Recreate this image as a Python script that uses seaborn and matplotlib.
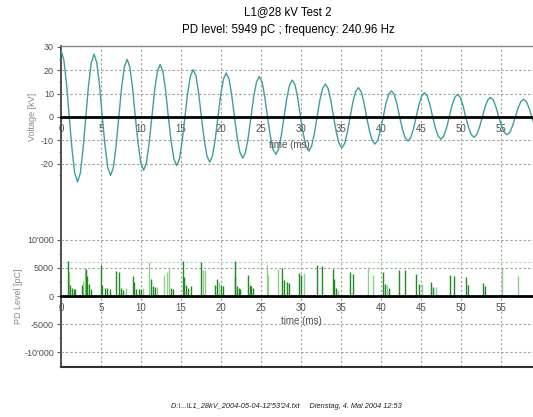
import matplotlib
matplotlib.use("Agg")
import matplotlib.pyplot as plt
import seaborn as sns

# --- values ---------------------------------------------------------------
# voltage trace, sampled every ~1/12 of a period (ms, kV)
time_ms = [
    0.00, 0.34, 0.69, 1.03, 1.38, 1.72,
    2.07, 2.41, 2.75, 3.10, 3.44, 3.79,
    4.13, 4.47, 4.82, 5.16, 5.51, 5.85,
    6.20, 6.54, 6.88, 7.23, 7.57, 7.92,
    8.26, 8.61, 8.95, 9.29, 9.64, 9.98,
    10.33, 10.67, 11.01, 11.36, 11.70, 12.05,
    12.39, 12.74, 13.08, 13.42, 13.77, 14.11,
    14.46, 14.80, 15.14, 15.49, 15.83, 16.18,
    16.52, 16.87, 17.21, 17.55, 17.90, 18.24,
    18.59, 18.93, 19.27, 19.62, 19.96, 20.31,
    20.65, 21.00, 21.34, 21.68, 22.03, 22.37,
    22.72, 23.06, 23.40, 23.75, 24.09, 24.44,
    24.78, 25.13, 25.47, 25.81, 26.16, 26.50,
    26.85, 27.19, 27.53, 27.88, 28.22, 28.57,
    28.91, 29.26, 29.60, 29.94, 30.29, 30.63,
    30.98, 31.32, 31.66, 32.01, 32.35, 32.70,
    33.04, 33.39, 33.73, 34.07, 34.42, 34.76,
    35.11, 35.45, 35.79, 36.14, 36.48, 36.83,
    37.17, 37.52, 37.86, 38.20, 38.55, 38.89,
    39.24, 39.58, 39.92, 40.27, 40.61, 40.96,
    41.30, 41.65, 41.99, 42.33, 42.68, 43.02,
    43.37, 43.71, 44.05, 44.40, 44.74, 45.09,
    45.43, 45.78, 46.12, 46.46, 46.81, 47.15,
    47.50, 47.84, 48.18, 48.53, 48.87, 49.22,
    49.56, 49.91, 50.25, 50.59, 50.94, 51.28,
    51.63, 51.97, 52.31, 52.66, 53.00, 53.35,
    53.69, 54.04, 54.38, 54.72, 55.07, 55.41,
    55.76, 56.10, 56.44, 56.79, 57.13, 57.48,
    57.82, 58.17, 58.51, 58.85, 59.20,
]
voltage_kv = [
    28.6, 24.8, 14.3, 0.0, -13.9, -24.1,
    -27.8, -24.1, -13.9, 0.0, 13.5, 23.3,
    26.9, 23.3, 13.5, 0.0, -12.5, -21.7,
    -25.0, -21.7, -12.5, 0.0, 12.4, 21.4,
    24.7, 21.4, 12.4, 0.0, -11.4, -19.7,
    -22.8, -19.7, -11.4, 0.0, 11.3, 19.5,
    22.5, 19.5, 11.3, 0.0, -10.4, -18.0,
    -20.8, -18.0, -10.4, 0.0, 10.2, 17.6,
    20.3, 17.6, 10.2, 0.0, -9.7, -16.7,
    -19.3, -16.7, -9.7, 0.0, 9.4, 16.3,
    18.8, 16.3, 9.4, 0.0, -8.8, -15.2,
    -17.6, -15.2, -8.8, 0.0, 8.7, 15.0,
    17.3, 15.0, 8.7, 0.0, -8.0, -13.9,
    -16.0, -13.9, -8.0, 0.0, 7.9, 13.7,
    15.8, 13.7, 7.9, 0.0, -7.3, -12.6,
    -14.6, -12.6, -7.3, 0.0, 7.1, 12.2,
    14.1, 12.2, 7.1, 0.0, -6.6, -11.4,
    -13.2, -11.4, -6.6, 0.0, 6.3, 10.9,
    12.6, 10.9, 6.3, 0.0, -5.8, -10.0,
    -11.6, -10.0, -5.8, 0.0, 5.6, 9.7,
    11.2, 9.7, 5.6, 0.0, -5.2, -8.9,
    -10.3, -8.9, -5.2, 0.0, 5.2, 9.0,
    10.4, 9.0, 5.2, 0.0, -4.8, -8.2,
    -9.5, -8.2, -4.8, 0.0, 4.9, 8.4,
    9.7, 8.4, 4.9, 0.0, -4.4, -7.5,
    -8.7, -7.5, -4.4, 0.0, 4.2, 7.3,
    8.4, 7.3, 4.2, 0.0, -3.8, -6.6,
    -7.6, -6.6, -3.8, 0.0, 3.8, 6.6,
    7.6, 6.6, 3.8, 0.0, -3.8,
]

# partial discharge pulses (ms, pC, 1 = dark green / 0 = light green)
pd_time_ms = [
    0.83, 1.0, 1.15, 1.35, 1.6, 1.8,
    2.6, 2.8, 3.0, 3.15, 3.3, 3.45, 3.7,
    4.96, 5.1, 5.45, 5.7, 6.1,
    6.9, 7.2, 7.45, 7.7, 8.1,
    8.96, 9.1, 9.4, 9.7, 10.0, 10.3,
    11.0, 11.2, 11.45, 11.75, 12.0,
    12.9, 13.2, 13.5, 13.7, 14.0,
    15.3, 15.4, 15.6, 15.9, 16.2,
    17.46, 17.7, 17.96,
    19.25, 19.5, 19.7, 20.0, 20.3,
    21.7, 21.8, 22.0, 22.2, 22.4,
    23.4, 23.6, 23.8, 24.0,
    25.7, 25.9, 27.1, 27.6, 27.9, 28.2, 28.5,
    29.75, 30.0, 30.4, 31.95, 32.6,
    34.0, 34.1, 34.4, 34.6, 36.1, 36.5,
    38.4, 39.0, 40.2, 40.45, 40.7, 41.0,
    42.3, 43.0, 44.4, 44.7, 45.1,
    46.3, 46.5, 46.9, 48.6, 49.1,
    50.6, 50.9, 52.8, 53.0, 55.1, 57.1,
]
pd_level_pc = [
    6300, 4300, 2000, 1400, 1300, 1300,
    2000, 2600, 5000, 4800, 3500, 2200, 1200,
    5500, 2000, 1400, 1500, 1200,
    4500, 4300, 1500, 1100, 1500,
    3500, 2500, 1300, 1300, 1200, 1500,
    6000, 3000, 1700, 1600, 1600,
    3800, 4200, 4800, 1500, 1200,
    6200, 3300, 2000, 1500, 1700,
    6000, 4600, 4600,
    2000, 3000, 2500, 2000, 1800,
    6300, 3400, 1800, 1500, 1200,
    3700, 2000, 1700, 1500,
    5500, 3800, 4800, 4900, 2800, 2400, 2300,
    4100, 3800, 4000, 5500, 5400,
    4800, 3000, 1500, 1000, 4300, 3900,
    5100, 3700, 4300, 2100, 2000, 1500,
    4600, 4600, 3900, 2100, 2100,
    2400, 1600, 1600, 3700, 3600,
    3300, 1900, 2300, 1700, 5100, 3600,
]
pd_dark = [
    1, 0, 1, 1, 1, 1,
    1, 0, 0, 1, 1, 1, 1,
    1, 1, 1, 1, 1,
    1, 1, 1, 1, 0,
    1, 1, 1, 1, 1, 0,
    0, 1, 1, 1, 0,
    0, 0, 0, 1, 1,
    1, 1, 1, 1, 1,
    1, 0, 0,
    1, 1, 0, 1, 1,
    1, 1, 1, 1, 1,
    1, 1, 1, 1,
    0, 0, 0, 1, 1, 1, 1,
    1, 1, 0, 1, 1,
    1, 1, 1, 0, 1, 1,
    0, 0, 1, 1, 0, 1,
    1, 1, 1, 1, 0,
    1, 1, 0, 1, 1,
    1, 1, 1, 1, 0, 0,
]

pd_threshold_pc = 5949
time_ticks = [0, 5, 10, 15, 20, 25, 30, 35, 40, 45, 50, 55]
kv_ticks = [30, 20, 10, 0, -10, -20]
pc_ticks = [10000, 5000, 0, -5000, -10000]
pc_tick_labels = ["10'000", "5000", "0", "-5000", "-10'000"]

# --- figure ---------------------------------------------------------------
sns.set_theme(style="white")
plt.rcParams["font.family"] = ["Liberation Sans", "DejaVu Sans"]

W, H = 533, 417
fig = plt.figure(figsize=(W / 100, H / 100), dpi=100)


def box(x0, y0, x1, y1):
    # pixel box (top-left origin) -> figure fraction rect
    return [x0 / W, 1 - y1 / H, (x1 - x0) / W, (y1 - y0) / H]


grid_kw = dict(color="#a0a0a0", linestyle=(0, (2, 2)), linewidth=0.8)
tick_color = "#505050"
label_color = "#8a8a8a"

# background frame with the vertical grid spanning both panels
ax_bg = fig.add_axes(box(61, 46, 533, 367))
ax_bg.set_xlim(0, 59)
ax_bg.set_ylim(0, 1)
ax_bg.set_xticks([])
ax_bg.set_yticks([])
for x in time_ticks[1:]:
    ax_bg.axvline(x, **grid_kw)
ax_bg.spines["right"].set_visible(False)
ax_bg.spines["top"].set_color("#888888")
ax_bg.spines["top"].set_linewidth(1.0)
ax_bg.spines["left"].set_color("#303030")
ax_bg.spines["left"].set_linewidth(1.2)
ax_bg.spines["bottom"].set_color("#303030")
ax_bg.spines["bottom"].set_linewidth(1.5)

ax_v = fig.add_axes(box(61, 46, 533, 188))
ax_p = fig.add_axes(box(61, 225, 533, 367))

for ax in (ax_v, ax_p):
    ax.patch.set_visible(False)
    ax.set_xlim(0, 59)
    for s in ("top", "left", "right"):
        ax.spines[s].set_visible(False)
    ax.spines["bottom"].set_position(("data", 0))
    ax.spines["bottom"].set_color("black")
    ax.spines["bottom"].set_linewidth(2.0)
    ax.spines["bottom"].set_zorder(4)
    ax.set_xticks(time_ticks)
    ax.set_xticklabels([str(t) for t in time_ticks])
    ax.tick_params(axis="x", length=0, pad=5, labelsize=7, labelcolor=tick_color)
    ax.tick_params(axis="y", left=True, direction="out", length=3, width=0.8,
                   color="#555555", pad=2, labelsize=6.5, labelcolor=tick_color)
    ax.tick_params(axis="y", which="minor", left=True, direction="out",
                   length=1.5, width=0.6, color="#555555")
    ax.set_xlabel("")

# top panel: voltage
sns.lineplot(x=time_ms, y=voltage_kv, ax=ax_v, color="#3c9f9f",
             linewidth=1.0, estimator=None, sort=False)
ax_v.set_ylim(-30.4, 30.4)
ax_v.set_yticks(kv_ticks)
ax_v.set_yticklabels([str(v) for v in kv_ticks])
ax_v.set_yticks([25, 15, 5, -5, -15, -25], minor=True)
for y in (20, 10, -10, -20):
    ax_v.axhline(y, zorder=0, **grid_kw)
ax_v.set_ylabel("Voltage [kV]", fontsize=6.5, color=label_color)
ax_v.yaxis.set_label_coords((37 - 61) / 472, 0.5)
ax_v.text(28.6, -12, "time (ms)", ha="center", va="center",
          fontsize=7, color=tick_color)

# bottom panel: PD level
for dark in (0, 1):
    xs = [t for t, d in zip(pd_time_ms, pd_dark) if d == dark]
    ys = [p for p, d in zip(pd_level_pc, pd_dark) if d == dark]
    ax_p.vlines(xs, 0, ys, color="#1f8a1f" if dark else "#8fd08f",
                linewidth=1.0, zorder=2)
ax_p.axhline(pd_threshold_pc, color="#a8dca8", linestyle=(0, (2, 2)),
             linewidth=0.8, zorder=1)
ax_p.set_ylim(-12600, 12600)
ax_p.set_yticks(pc_ticks)
ax_p.set_yticklabels(pc_tick_labels)
ax_p.set_yticks([7500, 2500, -2500, -7500, -12500], minor=True)
for y in (10000, 5000, -5000, -10000):
    ax_p.axhline(y, zorder=0, **grid_kw)
ax_p.set_ylabel("PD Level [pC]", fontsize=6.5, color=label_color)
ax_p.yaxis.set_label_coords((23 - 61) / 472, 0.5)
ax_p.text(30.1, -4400, "time (ms)", ha="center", va="center",
          fontsize=7, color=tick_color)

# titles and footer
fig.text(288 / W, 1 - 12 / H, "L1@28 kV Test 2", ha="center", va="center",
         fontsize=8.3, color="black")
fig.text(288 / W, 1 - 30 / H, "PD level: 5949 pC ; frequency: 240.96 Hz",
         ha="center", va="center", fontsize=8.3, color="black")
fig.text(286 / W, 1 - 407 / H,
         "D:\\...\\L1_28kV_2004-05-04-12'53'24.txt     Dienstag, 4. Mai 2004 12:53",
         ha="center", va="center", fontsize=5.3, style="italic", color="#202020")

fig.savefig("out.png", dpi=100)
